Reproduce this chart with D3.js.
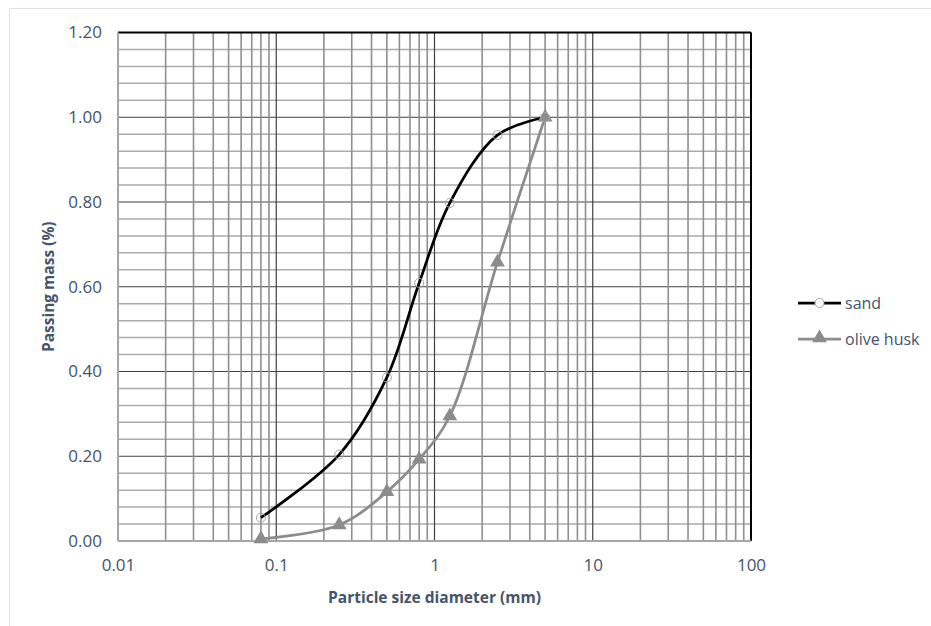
<!DOCTYPE html>
<html>
<head>
<meta charset="utf-8">
<script src="https://cdn.jsdelivr.net/npm/d3@7"></script>
<style>
  body { margin: 0; background: #fff; }
  text { font-family: "Open Sans", "Noto Sans", sans-serif; }
</style>
</head>
<body>
<div id="chart"></div>
<script>
// sieve sizes (mm) and passing fractions
const sizes = [0.08, 0.25, 0.5, 0.8, 1.25, 2.5, 5];
const sandPassing = [0.055, 0.204, 0.386, 0.609, 0.798, 0.958, 1.0];
const huskPassing = [0.005, 0.038, 0.116, 0.193, 0.295, 0.658, 1.0];
const xTicks = [0.01, 0.1, 1, 10, 100];
const yTicks = [0, 0.2, 0.4, 0.6, 0.8, 1.0, 1.2];

const width = 931, height = 626;
const margin = { left: 118, right: 180, top: 32.5, bottom: 85 };
const textColor = '#44546a';

const svg = d3.select('#chart').append('svg')
  .attr('width', width)
  .attr('height', height);

// light chart frame
svg.append('rect')
  .attr('x', 9.5).attr('y', 8.5)
  .attr('width', width).attr('height', height)
  .attr('fill', 'none')
  .attr('stroke', '#dde1e8');

const x = d3.scaleLog().domain([0.01, 100]).range([margin.left, width - margin.right]);
const y = d3.scaleLinear().domain([0, 1.2]).range([height - margin.bottom, margin.top]);

const grid = svg.append('g');

// horizontal grid: minor every 0.04, major every 0.2
d3.range(0, 31).map(i => i * 0.04).forEach(v => {
  const major = Math.abs(v / 0.2 - Math.round(v / 0.2)) < 1e-6;
  grid.append('line')
    .attr('x1', x.range()[0]).attr('x2', x.range()[1])
    .attr('y1', y(v)).attr('y2', y(v))
    .attr('stroke', major ? '#404040' : '#aaaaaa')
    .attr('stroke-width', major ? 1.2 : 1.5);
});

// vertical grid: 2..9 per decade grey, decades dark
const minorX = [];
[0.01, 0.1, 1, 10].forEach(d => { for (let k = 2; k <= 9; k++) minorX.push(d * k); });
minorX.forEach(v => {
  grid.append('line')
    .attr('x1', x(v)).attr('x2', x(v))
    .attr('y1', y.range()[0]).attr('y2', y.range()[1])
    .attr('stroke', '#8f8f8f')
    .attr('stroke-width', 1.6);
});
xTicks.forEach(v => {
  grid.append('line')
    .attr('x1', x(v)).attr('x2', x(v))
    .attr('y1', y.range()[0]).attr('y2', y.range()[1])
    .attr('stroke', '#404040')
    .attr('stroke-width', 1.2);
});

// plot borders: top/right black, left/bottom grey axis lines
svg.append('line').attr('x1', x.range()[0]).attr('x2', x.range()[1])
  .attr('y1', y(1.2)).attr('y2', y(1.2)).attr('stroke', '#000').attr('stroke-width', 2);
svg.append('line').attr('x1', x(100)).attr('x2', x(100))
  .attr('y1', y(0)).attr('y2', y(1.2)).attr('stroke', '#000').attr('stroke-width', 2);
svg.append('line').attr('x1', x(0.01)).attr('x2', x(0.01))
  .attr('y1', y(0)).attr('y2', y(1.2)).attr('stroke', '#a6a6a6').attr('stroke-width', 2);
svg.append('line').attr('x1', x.range()[0]).attr('x2', x.range()[1])
  .attr('y1', y(0)).attr('y2', y(0)).attr('stroke', '#a6a6a6').attr('stroke-width', 2);

// axes (labels only)
const xAxis = svg.append('g')
  .attr('transform', `translate(0,${y(0)})`)
  .call(d3.axisBottom(x).tickValues(xTicks).tickFormat(d => String(d)).tickSize(0).tickPadding(18));
const yAxis = svg.append('g')
  .attr('transform', `translate(${x(0.01)},0)`)
  .call(d3.axisLeft(y).tickValues(yTicks).tickFormat(d3.format('.2f')).tickSize(0).tickPadding(16));
[xAxis, yAxis].forEach(a => {
  a.select('.domain').remove();
  a.attr('font-size', null).attr('font-family', null);
  a.selectAll('text').attr('fill', textColor).style('font-size', '17px');
});

// axis titles
svg.append('text')
  .attr('x', x(1)).attr('y', 603)
  .attr('text-anchor', 'middle')
  .attr('fill', textColor)
  .style('font-size', '15.5px').style('font-weight', 'bold')
  .text('Particle size diameter (mm)');
svg.append('text')
  .attr('transform', `translate(54,${y(0.6)}) rotate(-90)`)
  .attr('text-anchor', 'middle')
  .attr('fill', textColor)
  .style('font-size', '15.5px').style('font-weight', 'bold')
  .text('Passing mass (%)');

const line = d3.line()
  .x(d => x(d[0]))
  .y(d => y(d[1]))
  .curve(d3.curveCatmullRom.alpha(0.5));

const sand = sizes.map((s, i) => [s, sandPassing[i]]);
const husk = sizes.map((s, i) => [s, huskPassing[i]]);
const huskColor = '#8c8c8c';
const tri = d3.symbol().type(d3.symbolTriangle).size(95);

svg.append('path').datum(husk).attr('d', line)
  .attr('fill', 'none').attr('stroke', huskColor).attr('stroke-width', 2.75);
svg.append('path').datum(sand).attr('d', line)
  .attr('fill', 'none').attr('stroke', '#000').attr('stroke-width', 2.75);

svg.selectAll('.tri').data(husk).enter().append('path')
  .attr('transform', d => `translate(${x(d[0])},${y(d[1])})`)
  .attr('d', tri).attr('fill', huskColor);
svg.selectAll('.circ').data(sand).enter().append('circle')
  .attr('cx', d => x(d[0])).attr('cy', d => y(d[1])).attr('r', 4.5)
  .attr('fill', 'none').attr('stroke', '#a6a6a6').attr('stroke-width', 1);

// legend
const legend = [
  { name: 'sand', color: '#000', marker: 'circle', y: 303 },
  { name: 'olive husk', color: huskColor, marker: 'tri', y: 339 }
];
legend.forEach(l => {
  const g = svg.append('g');
  g.append('line').attr('x1', 798).attr('x2', 841).attr('y1', l.y).attr('y2', l.y)
    .attr('stroke', l.color).attr('stroke-width', 2.75);
  if (l.marker === 'circle') {
    g.append('circle').attr('cx', 819.5).attr('cy', l.y).attr('r', 4.5)
      .attr('fill', '#fff').attr('stroke', '#a6a6a6');
  } else {
    g.append('path').attr('transform', `translate(819.5,${l.y - 1})`).attr('d', tri).attr('fill', l.color);
  }
  g.append('text').attr('x', 845).attr('y', l.y + 5.5)
    .attr('fill', textColor).style('font-size', '16px').text(l.name);
});
</script>
</body>
</html>
